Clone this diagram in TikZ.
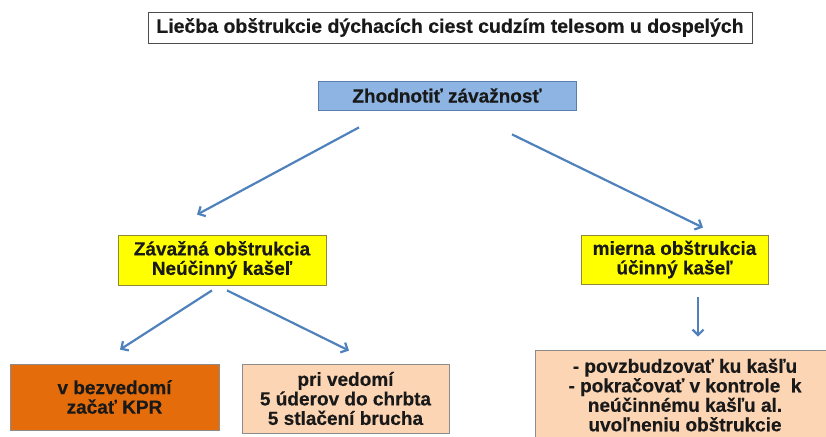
\documentclass[tikz,border=0pt]{standalone}
\usepackage{fontspec}
\setmainfont[BoldFeatures={FakeBold=0.4}]{Liberation Sans}
\usetikzlibrary{arrows.meta,calc}
\definecolor{boxblue}{HTML}{8DB4E2}
\definecolor{boxblueb}{HTML}{5A7FAF}
\definecolor{boxyel}{HTML}{FFFF00}
\definecolor{boxorange}{HTML}{E46C0A}
\definecolor{boxpeach}{HTML}{FCD5B5}
\definecolor{arrowblue}{HTML}{4F81BD}
\definecolor{edgegray}{HTML}{8C8C8C}
\tikzset{
  box/.style={rectangle, draw=edgegray, line width=0.8pt, align=center, inner sep=0pt,
    font=\fontsize{19}{19.5}\selectfont\bfseries, text=black!90},
  titlebox/.style={box, draw=black!70, fill=white, font=\fontsize{19.5}{20}\selectfont\bfseries},
  bluebox/.style={box, fill=boxblue, draw=boxblueb},
  yelbox/.style={box, fill=boxyel, draw=olive!60!gray},
  orangebox/.style={box, fill=boxorange},
  peachbox/.style={box, fill=boxpeach},
  arr/.style={draw=arrowblue, line width=2.2pt, -{Straight Barb[length=5.5pt,width=11pt,line width=2.2pt]}},
}
\begin{document}
\begin{tikzpicture}[x=1pt,y=-1pt]
\useasboundingbox (0,0) rectangle (826,436);
\clip (0,0) rectangle (826,436);
\node[titlebox, minimum width=604pt, minimum height=31pt] (title) at (450,27.5)
  {Liečba obštrukcie dýchacích ciest cudzím telesom u dospelých};
\node[bluebox, minimum width=258pt, minimum height=29pt] (zh) at (447,95.5)
  {Zhodnotiť závažnosť};
\node[yelbox, minimum width=208pt, minimum height=50pt] (sev) at (222,260)
  {Závažná obštrukcia\\Neúčinný kašeľ};
\node[yelbox, minimum width=187pt, minimum height=49pt] (mild) at (674.5,259.5)
  {mierna obštrukcia\\účinný kašeľ};
\node[orangebox, minimum width=209pt, minimum height=66pt] (unc) at (114.5,397)
  {v bezvedomí\\začať KPR};
\node[peachbox, minimum width=207pt, minimum height=69pt] (con) at (345.5,398.5)
  {pri vedomí\\5 úderov do chrbta\\5 stlačení brucha};
\node[peachbox, minimum width=300pt, minimum height=90pt] (act) at (685,395)
  {- povzbudzovať ku kašľu\\- pokračovať v kontrole \ k\\neúčinnému kašľu al.\\uvoľneniu obštrukcie};
\draw[arr] ($(zh.south)+(-88,17)$) -- ($(sev.north)+(-25,-20)$);
\draw[arr] ($(zh.south)+(65,24)$) -- ($(mild.north)+(28.5,-7)$);
\draw[arr] ($(sev.south)+(-10,5)$) -- ($(unc.north)+(5.5,-14)$);
\draw[arr] ($(sev.south)+(5,5)$) -- ($(con.north)+(3.5,-13)$);
\draw[arr] ($(mild.south)+(23.5,13)$) -- ($(act.north)+(13,-13)$);
\end{tikzpicture}
\end{document}
